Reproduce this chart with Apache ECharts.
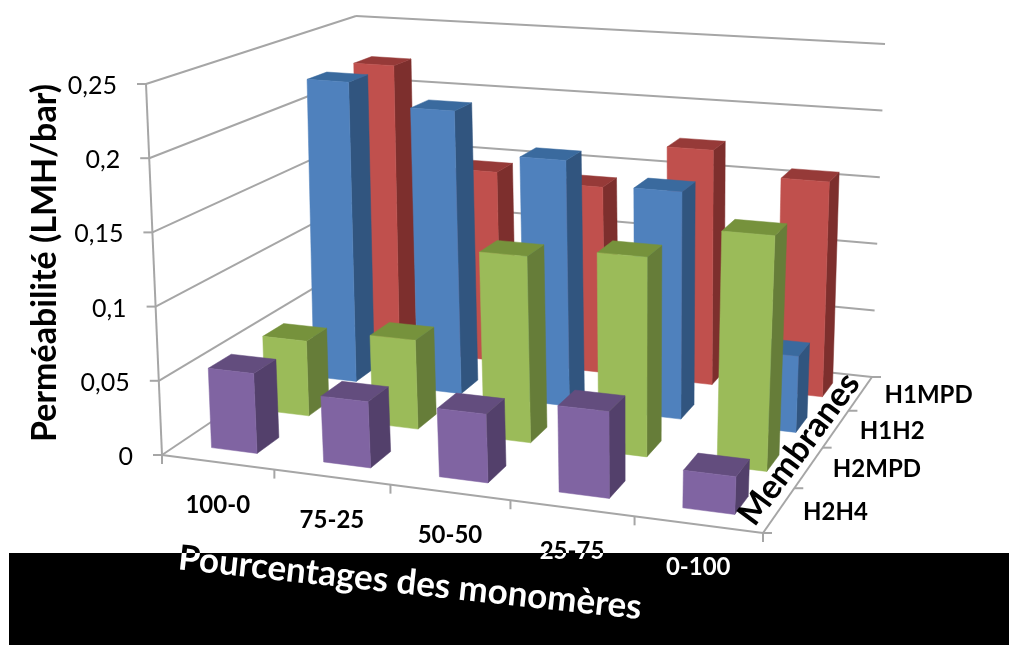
<!DOCTYPE html>
<html><head><meta charset="utf-8">
<style>html,body{margin:0;padding:0;background:#fff}#c{width:1009px;height:645px}</style>
<script src="https://cdn.jsdelivr.net/npm/echarts@6/dist/echarts.min.js"></script>
</head><body><div id="c"></div>
<script>
// ---------- data ----------
var categories = ['100-0','75-25','50-50','25-75','0-100'];
var membranes = ['H2H4','H2MPD','H1H2','H1MPD'];
var valuesH2H4  = [0.054,0.044,0.045,0.056,0.024];
var valuesH2MPD = [0.053,0.062,0.128,0.135,0.157];
var valuesH1H2  = [0.223,0.207,0.177,0.161,0.053];
var valuesH1MPD = [0.222,0.145,0.140,0.174,0.157];
var yTicks = [0,0.05,0.1,0.15,0.2,0.25];
var yTickLabels = ['0','0,05','0,1','0,15','0,2','0,25'];
var yTitle = 'Perméabilité (LMH/bar)';
var xTitle = 'Pourcentages des monomères';
var zTitle = 'Membranes';

// ---------- view geometry (perspective box of the 3-D chart) ----------
var floorQuad = [[162,455],[763,533],[872,377],[360,322]];
var ceilQuad  = [[146,84],[781,132],[885,44],[356,16]];
var GRID = {left:5,top:20,width:1000,height:600};
var MASK = {x:9,y:553,width:1000,height:92};
var GAP = 0.295;
var BAR_STYLES = {
  H2H4:  {front:'#8064A2',side:'#53406B',top:'#634D7E'},
  H2MPD: {front:'#9BBB59',side:'#667D39',top:'#76923C'},
  H1H2:  {front:'#4F81BD',side:'#31557F',top:'#3A6A9E'},
  H1MPD: {front:'#C0504D',side:'#7D2F2D',top:'#963A38'}
};
var GRIDLINE = '#a6a6a6';
var FONT = 'Lato, "Open Sans", sans-serif';

function homography(q){
  var x0=q[0][0],y0=q[0][1],x1=q[1][0],y1=q[1][1],x2=q[2][0],y2=q[2][1],x3=q[3][0],y3=q[3][1];
  var dx1=x1-x2,dx2=x3-x2,dx3=x0-x1+x2-x3,dy1=y1-y2,dy2=y3-y2,dy3=y0-y1+y2-y3;
  var det=dx1*dy2-dx2*dy1;
  var g=(dx3*dy2-dx2*dy3)/det,h=(dx1*dy3-dx3*dy1)/det;
  var a=x1-x0+g*x1,b=x3-x0+h*x3,d=y1-y0+g*y1,e=y3-y0+h*y3;
  return function(u,v){var w=g*u+h*v+1;return [(a*u+b*v+x0)/w,(d*u+e*v+y0)/w];};
}
var floorH = homography(floorQuad), ceilH = homography(ceilQuad);
// category position, depth position and value go through the (hidden) axes' scales
function projector(api){
  return function(x,z,v){
    var p = api.coord([x,v]);
    var X = (p[0]-GRID.left)/GRID.width;
    var V = (GRID.top+GRID.height-p[1])/GRID.height;
    var Z = z/membranes.length;
    var f = floorH(X,Z), c = ceilH(X,Z);
    return [f[0]+(c[0]-f[0])*V, f[1]+(c[1]-f[1])*V];
  };
}
function poly(pts,fill){
  return {type:'polygon',shape:{points:pts},style:{fill:fill,stroke:fill,lineWidth:0.5},silent:true};
}
function line(a,b,w){
  return {type:'line',shape:{x1:a[0],y1:a[1],x2:b[0],y2:b[1]},style:{stroke:GRIDLINE,lineWidth:w||2,fill:null},silent:true};
}
function text(str,x,y,size,opt){
  opt=opt||{};
  var weight=opt.weight||'normal';
  return {type:'text',x:x,y:y,rotation:opt.rotation||0,silent:true,
    style:{text:str,fill:opt.fill||'#000',font:weight+' '+size+'px '+FONT,
      align:opt.align||'center',verticalAlign:'middle'}};
}
function barRender(name){
  var s=BAR_STYLES[name];
  return function(params,api){
    var P=projector(api);
    var i=api.value(0), d=api.value(1), val=api.value(2);
    var x0=i+GAP,x1=i+1-GAP,z0=d+GAP,z1=d+1-GAP;
    var fbl=P(x0,z0,0),fbr=P(x1,z0,0),bbr=P(x1,z1,0);
    var ftl=P(x0,z0,val),ftr=P(x1,z0,val),btr=P(x1,z1,val),btl=P(x0,z1,val);
    return {type:'group',children:[
      poly([fbr,bbr,btr,ftr],s.side),
      poly([ftl,ftr,btr,btl],s.top),
      poly([fbl,fbr,ftr,ftl],s.front)
    ]};
  };
}
function wallsRender(params,api){
  var P=projector(api), nx=categories.length, nz=membranes.length, ch=[];
  yTicks.forEach(function(t){
    var a=P(0,0,t),b=P(0,nz,t),c=P(nx,nz,t);
    ch.push(line(a,b),line(b,c),line([a[0]-9,a[1]],a));
  });
  ch.push(line(P(0,0,0),P(0,0,yTicks[yTicks.length-1])));
  ch.push(line(P(0,0,0),P(nx,0,0)),line(P(nx,0,0),P(nx,nz,0)));
  for(var i=0;i<=nx;i++){var p=P(i,0,0);ch.push(line(p,[p[0],p[1]+9]));}
  for(var j=0;j<=nz;j++){var q=P(nx,j,0);ch.push(line(q,[q[0]+9,q[1]]));}
  return {type:'group',children:ch};
}
function maskRender(params,api){
  return {type:'rect',shape:MASK,style:{fill:'#000'},silent:true};
}
function catLabels(P,fill){
  return categories.map(function(c,k){
    var p=P(k+0.5,0,0);
    return text(c,p[0],p[1]+43,24,{weight:'bold',fill:fill});
  });
}
function xTitleLabel(fill){
  return text(xTitle,410,583,35,{weight:'bold',rotation:-6.15*Math.PI/180,fill:fill});
}
function labelsRender(params,api){
  var P=projector(api), nx=categories.length, ch=[];
  yTicks.forEach(function(t,k){
    var p=P(0,0,t);
    ch.push(text(yTickLabels[k],p[0]-29,p[1]+2,25,{align:'right'}));
  });
  membranes.forEach(function(m,k){
    var p=P(nx,k+0.5,0);
    ch.push(text(m,p[0]+24,p[1]+2,24,{weight:'bold',align:'left'}));
  });
  ch.push(text(yTitle,45,263,34,{weight:'bold',rotation:Math.PI/2}));
  ch.push(text(zTitle,799,449,34,{weight:'bold',rotation:53.5*Math.PI/180}));
  return {type:'group',children:ch};
}
// labels that cross the black band: black on white above it, white on black inside it
function underMaskRender(params,api){
  var P=projector(api);
  return {type:'group',children:catLabels(P,'#000').concat([xTitleLabel('#000')])};
}
function overMaskRender(params,api){
  var P=projector(api);
  return {type:'group',clipPath:{type:'rect',shape:MASK},
    children:catLabels(P,'#fff').concat([xTitleLabel('#fff')])};
}
function single(name,z,fn){
  return {type:'custom',name:name,coordinateSystem:'cartesian2d',z:z,clip:false,silent:true,
    animation:false,renderItem:fn,data:[[0,0,0]],encode:{x:0,y:2}};
}
function barSeries(name,values,depth){
  return {type:'custom',name:name,coordinateSystem:'cartesian2d',z:2,
    clip:false,silent:true,animation:false,renderItem:barRender(name),encode:{x:0,y:2},
    data:values.map(function(v,i){return [i,depth,v];})};
}
var chart=echarts.init(document.getElementById('c'),null,{renderer:'canvas'});
chart.setOption({
  backgroundColor:'#fff',animation:false,
  grid:{left:GRID.left,top:GRID.top,width:GRID.width,height:GRID.height},
  xAxis:{type:'value',min:0,max:categories.length,show:false},
  yAxis:{type:'value',min:0,max:0.25,show:false},
  tooltip:{show:false},
  series:[
    single('walls',1,wallsRender),
    barSeries('H1MPD',valuesH1MPD,3),
    barSeries('H1H2',valuesH1H2,2),
    barSeries('H2MPD',valuesH2MPD,1),
    barSeries('H2H4',valuesH2H4,0),
    single('labelsUnder',3,underMaskRender),
    single('mask',4,maskRender),
    single('labels',5,labelsRender),
    single('labelsOver',6,overMaskRender)
  ]
});
</script></body></html>
